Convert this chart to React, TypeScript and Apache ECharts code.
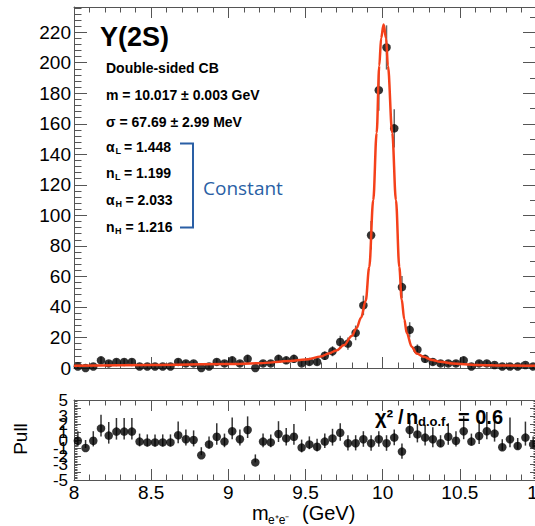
import React, { useEffect, useRef } from "react";
import * as echarts from "echarts";

// bin centres (GeV), bin width 0.05
const binCenters = [
  8.025, 8.075, 8.125, 8.175, 8.225, 8.275, 8.325, 8.375, 8.425, 8.475,
  8.525, 8.575, 8.625, 8.675, 8.725, 8.775, 8.825, 8.875, 8.925, 8.975,
  9.025, 9.075, 9.125, 9.175, 9.225, 9.275, 9.325, 9.375, 9.425, 9.475,
  9.525, 9.575, 9.625, 9.675, 9.725, 9.775, 9.825, 9.875, 9.925, 9.975,
  10.025, 10.075, 10.125, 10.175, 10.225, 10.275, 10.325, 10.375, 10.425, 10.475,
  10.525, 10.575, 10.625, 10.675, 10.725, 10.775, 10.825, 10.875, 10.925, 10.975,
];

// events per bin
const counts = [
  1, 0, 1, 5, 3, 4, 4, 4, 1, 1,
  1, 1, 1, 4, 3, 3, 0, 1, 4, 3,
  5, 3, 6, 0, 3, 3, 6, 5, 6, 3,
  4, 4, 8, 11, 17, 16, 23, 41, 87, 182,
  210, 157, 53, 25, 12, 6, 4, 3, 3, 3,
  5, 1, 3, 3, 2, 1, 1, 1, 2, 1,
];

// fit curve
const curveM = [
  8.0, 8.5, 9.0, 9.2, 9.4, 9.5, 9.6, 9.65, 9.7, 9.75,
  9.8, 9.83, 9.86, 9.89, 9.913, 9.939, 9.961, 9.978, 9.99, 10.006,
  10.022, 10.034, 10.062, 10.086, 10.108, 10.123, 10.14, 10.156, 10.188, 10.22,
  10.264, 10.32, 10.372, 10.45, 10.61, 10.8, 11.0,
];
const curveV = [
  1.5, 2.0, 2.6, 3.1, 4.6, 5.5, 7.5, 9.5, 11.5, 15,
  21, 26, 33, 44, 66, 110, 154, 198, 216, 225,
  216, 198, 154, 110, 66, 45, 32, 23, 14, 9.5,
  7.4, 5.3, 4.1, 3.0, 2.0, 1.6, 1.4,
];

// pulls and their (asymmetric) error bars
const pulls = [
  -0.1, -1.0, -0.1, 1.45, 0.55, 1.05, 1.05, 1.05, -0.2, -0.3,
  -0.3, -0.3, -0.3, 0.6, 0.1, 0.0, -1.9, -0.55, 0.4, -0.2,
  1.1, 0.1, 1.25, -2.8, -0.2, -0.3, 0.75, 0.2, 0.4, -0.95,
  -0.55, -0.85, -0.2, 0.2, 0.9, -0.4, -0.4, 0.1, -0.4, 0.1,
  -0.4, 0.3, -1.45, 1.25, 0.7, 0.3, 0.1, -0.4, 0.4, -0.1,
  1.1, -0.2, 0.5, 1.1, 0.8, -0.9, 0.1, -0.75, 0.3, -0.55,
];
const pullHi = [
  1.2, 1.0, 1.2, 1.7, 1.7, 1.7, 1.7, 1.7, 1.0, 1.0,
  1.0, 1.0, 1.0, 1.7, 1.2, 1.2, 1.0, 1.0, 1.7, 1.0,
  1.7, 1.2, 1.7, 1.0, 1.0, 1.0, 1.6, 1.3, 1.6, 1.0,
  1.0, 1.0, 1.0, 1.2, 1.2, 1.0, 1.0, 1.0, 1.0, 1.0,
  1.0, 1.0, 1.0, 1.2, 1.3, 1.6, 1.5, 1.0, 1.7, 1.2,
  1.9, 1.0, 2.0, 2.4, 1.9, 1.0, 2.7, 1.0, 2.0, 1.0,
];
const pullLo = [
  0.7, 0.0, 0.7, 1.0, 1.0, 1.0, 1.0, 1.0, 0.6, 0.5,
  0.5, 0.5, 0.5, 1.0, 0.8, 0.8, 0.0, 0.5, 1.0, 0.7,
  1.0, 0.8, 1.0, 0.0, 0.7, 0.6, 1.0, 0.9, 1.0, 0.6,
  0.6, 0.6, 0.8, 0.9, 1.0, 0.9, 0.9, 0.95, 0.95, 0.95,
  0.95, 0.95, 0.9, 1.0, 1.0, 1.0, 1.0, 0.5, 1.0, 0.7,
  1.0, 0.5, 1.0, 1.0, 1.0, 0.4, 1.0, 0.4, 1.0, 0.4,
];

const FONT = "'Liberation Sans', Arial, Helvetica, sans-serif";
const AX = "#555";
const FIT = "#f5401a";
const BLUE = "#2a5fa5";

function xAxisDef(grid: number, pos: "top" | "bottom", labels: boolean) {
  return {
    type: "value",
    gridIndex: grid,
    position: pos,
    min: 8,
    max: 11,
    interval: 0.5,
    axisLine: { show: true, onZero: false, lineStyle: { color: AX, width: 1 } },
    axisTick: { show: true, inside: true, length: 11, lineStyle: { color: AX, width: 1 } },
    minorTick: { show: true, splitNumber: 5, length: 5.5, lineStyle: { color: AX, width: 1 } },
    splitLine: { show: false },
    axisLabel: {
      show: labels,
      color: "#000",
      fontFamily: FONT,
      fontSize: 19,
      margin: 3,
    },
  };
}

function errBarSeries(xi: number, yi: number, data: number[][], color: string, z: number) {
  return {
    type: "custom",
    xAxisIndex: xi,
    yAxisIndex: yi,
    z,
    silent: true,
    encode: { x: 0, y: [1, 2] },
    data,
    renderItem: (_p: any, api: any) => {
      const x = api.value(0);
      const a = api.coord([x, api.value(1)]);
      const b = api.coord([x, api.value(2)]);
      return {
        type: "line",
        shape: { x1: a[0], y1: a[1], x2: b[0], y2: b[1] },
        style: { stroke: color, lineWidth: 1.5 },
      };
    },
  };
}

function txt(x: number, y: number, text: string, size: number, opts: any = {}) {
  return {
    type: "text",
    x,
    y,
    z: 100,
    rotation: opts.rotation || 0,
    style: {
      text,
      fontSize: size,
      fontFamily: opts.family || FONT,
      fontWeight: opts.weight || "bold",
      fill: opts.color || "#000",
      align: opts.align || "left",
      verticalAlign: "middle",
    },
  };
}

export default function App() {
  const ref = useRef<HTMLDivElement>(null);
  useEffect(() => {
    if (!ref.current) return;
    const chart = echarts.init(ref.current, null, { renderer: "svg" });

    const mainPts = binCenters.map((m, i) => [m, counts[i]]);
    const mainErr = binCenters
      .map((m, i) => [m, counts[i] - Math.sqrt(counts[i]), counts[i] + Math.sqrt(counts[i])])
      .filter((d) => d[2] > d[1]);
    const curve = curveM.map((m, i) => [m, curveV[i]]);
    const pullPts = binCenters.map((m, i) => [m, pulls[i]]);
    const pullErr = binCenters.map((m, i) => [m, pulls[i] - pullLo[i], pulls[i] + pullHi[i]]);

    const yTickCommon = (len: number, minorLen: number, split: number) => ({
      axisLine: { show: true, onZero: false, lineStyle: { color: AX, width: 1 } },
      axisTick: { show: true, inside: true, length: len, lineStyle: { color: AX, width: 1 } },
      minorTick: { show: true, splitNumber: split, length: minorLen, lineStyle: { color: AX, width: 1 } },
      splitLine: { show: false },
    });

    const option: any = {
      animation: false,
      backgroundColor: "#fff",
      grid: [
        { left: 74, top: 7, right: -2, height: 361, outerBoundsMode: "none", containLabel: false },
        { left: 74, top: 400, right: -2, height: 80, outerBoundsMode: "none", containLabel: false },
      ],
      xAxis: [
        xAxisDef(0, "bottom", false),
        xAxisDef(0, "top", false),
        xAxisDef(1, "bottom", true),
        xAxisDef(1, "top", false),
      ],
      yAxis: [
        {
          type: "value",
          gridIndex: 0,
          position: "left",
          min: 0,
          max: 236.5,
          interval: 20,
          ...yTickCommon(13, 7.5, 5),
          axisLabel: { color: "#000", fontFamily: FONT, fontSize: 19, margin: 3, showMaxLabel: false },
        },
        {
          type: "value",
          gridIndex: 0,
          position: "right",
          min: 0,
          max: 236.5,
          interval: 20,
          ...yTickCommon(14, 7, 2),
          axisLabel: { show: false },
        },
        {
          type: "value",
          gridIndex: 1,
          position: "left",
          min: -5,
          max: 5,
          interval: 1,
          ...yTickCommon(7, 3.5, 5),
          axisLabel: {
            color: "#000",
            fontFamily: FONT,
            fontSize: 17,
            margin: 6,
            hideOverlap: false,
            showMinLabel: true,
            showMaxLabel: true,
          },
        },
        {
          type: "value",
          gridIndex: 1,
          position: "right",
          min: -5,
          max: 5,
          interval: 1,
          ...yTickCommon(7, 3.5, 5),
          axisLabel: { show: false },
        },
      ],
      series: [
        errBarSeries(0, 0, mainErr, "#666", 3),
        {
          type: "scatter",
          xAxisIndex: 0,
          yAxisIndex: 0,
          data: mainPts,
          symbol: "circle",
          symbolSize: 8.5,
          itemStyle: { color: "#000" },
          z: 4,
          silent: true,
        },
        {
          type: "line",
          xAxisIndex: 0,
          yAxisIndex: 0,
          data: curve,
          smooth: 0.35,
          smoothMonotone: "x",
          showSymbol: false,
          symbol: "none",
          lineStyle: { color: FIT, width: 2.5 },
          z: 5,
          silent: true,
        },
        errBarSeries(2, 2, pullErr, "#333", 3),
        {
          type: "scatter",
          xAxisIndex: 2,
          yAxisIndex: 2,
          data: pullPts,
          symbol: "circle",
          symbolSize: 8.5,
          itemStyle: { color: "#000" },
          z: 4,
          silent: true,
        },
      ],
      graphic: [
        txt(100, 37, "Υ(2S)", 27),
        txt(106, 68, "Double-sided CB", 14),
        txt(106, 95, "m = 10.017 ± 0.003 GeV", 14),
        txt(106, 121.5, "σ = 67.69 ± 2.99 MeV", 14),
        txt(106, 146.5, "α", 14),
        txt(115.5, 150.5, "L", 9),
        txt(120, 146.5, " = 1.448", 14),
        txt(106, 173, "n", 14),
        txt(115, 177, "L", 9),
        txt(120, 173, " = 1.199", 14),
        txt(106, 199.5, "α", 14),
        txt(115.5, 203.5, "H", 9),
        txt(121.5, 199.5, " = 2.033", 14),
        txt(106, 227, "n", 14),
        txt(115, 231, "H", 9),
        txt(121.5, 227, " = 1.216", 14),
        {
          type: "polyline",
          z: 100,
          shape: { points: [[180, 143.5], [193, 143.5], [193, 227.5], [180, 227.5]] },
          style: { stroke: BLUE, lineWidth: 2, fill: "none" },
        },
        txt(203, 188, "Constant", 19, { family: "'Open Sans', sans-serif", weight: "normal", color: BLUE }),
        txt(375, 416.5, "χ²", 20),
        txt(398, 416.5, "/", 20),
        txt(406, 416.5, "n", 20),
        txt(418, 421, "d.o.f.", 13),
        txt(458, 416.5, "= 0.6", 20),
        txt(20, 439, "Pull", 19, { weight: "normal", rotation: Math.PI / 2, align: "center" }),
        txt(252, 513, "m", 20, { weight: "normal" }),
        txt(268, 520, "e⁺e⁻", 12, { weight: "normal" }),
        txt(302, 513, "(GeV)", 20, { weight: "normal" }),
      ],
    };
    chart.setOption(option);
    return () => chart.dispose();
  }, []);
  return (
    <div
      ref={ref}
      style={{ position: "fixed", left: 0, top: 0, width: 535, height: 526, background: "#fff" }}
    />
  );
}
